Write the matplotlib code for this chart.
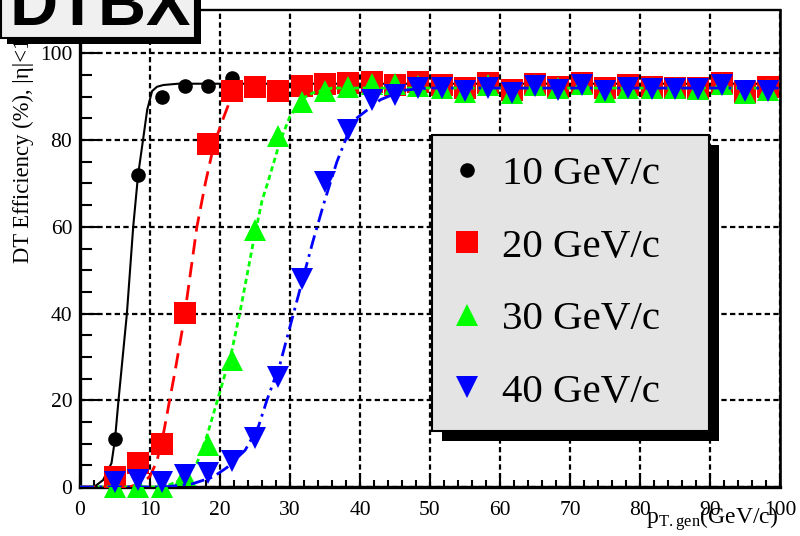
import numpy as np
import matplotlib
matplotlib.use('Agg')
import matplotlib.pyplot as plt
from matplotlib.patches import Rectangle
from matplotlib.ticker import MultipleLocator

plt.rcParams['font.family'] = ['Liberation Serif', 'DejaVu Serif']
plt.rcParams['mathtext.fontset'] = 'custom'
plt.rcParams['mathtext.rm'] = 'Liberation Serif'

# bin centres, pT gen (GeV/c)
pt = [5.0, 8.3, 11.7, 15.0, 18.3, 21.7, 25.0, 28.3, 31.7, 35.0, 38.3, 41.7, 45.0, 48.3, 51.7,
      55.0, 58.3, 61.7, 65.0, 68.3, 71.7, 75.0, 78.3, 81.7, 85.0, 88.3, 91.7, 95.0, 98.3]

# efficiency (%) for each pT cut
eff10 = [11, 72, 90, 92.5, 92.4, 94.3, 92.2, 91.4, 92.5, 93, 93.1, 93.3, 92.6, 93.3, 92.6,
         92, 93.1, 91.6, 92.9, 92.2, 93.2, 91.9, 92.6, 92.3, 92.1, 92.1, 93.2, 91.1, 92.2]
eff20 = [2.3, 5.5, 10, 40.2, 79, 91.4, 92.2, 91.4, 92.5, 93, 93.1, 93.3, 92.6, 93.3, 92.6,
         92, 93.1, 91.6, 92.9, 92.2, 93.2, 91.9, 92.6, 92.3, 92.1, 92.1, 93.2, 91.1, 92.2]
eff30 = [0, 0, 0, 2.8, 9.7, 29.2, 59.2, 81, 88.8, 91.4, 92.3, 93, 93, 92.4, 91.9,
         91.1, 92.6, 90.9, 92.6, 91.9, 93, 91.1, 91.9, 91.9, 91.9, 91.7, 93, 90.9, 91.6]
eff40 = [1.2, 1.6, 1.2, 2.8, 3.2, 6, 11.2, 25.4, 48, 70.4, 82.3, 89.3, 90.4, 92, 92,
         91.4, 92, 90.9, 92.4, 91.5, 92.8, 91.4, 92, 91.7, 91.7, 91.7, 92.6, 91.4, 91.4]

# fitted curves
fit10_x = [0, 2.0, 3.3, 4.5, 5.0, 5.5, 6.7, 7.6, 8.3, 9.0, 9.6, 10.3, 11.0, 11.9, 14, 100]
fit10_y = [0, 0, 1.6, 5.5, 11, 20, 40, 60, 72, 80, 87, 91.3, 92.3, 92.7, 93, 93]
fit20_x = [0, 7.0, 9.0, 10.0, 11.0, 12.0, 12.8, 13.5, 14.8, 16.7, 17.9, 19.0, 20.0, 21.4, 22.5, 24, 100]
fit20_y = [0, 0, 1, 2.5, 6, 13, 20, 26, 38, 60, 70, 78, 83, 89, 91.5, 92.5, 92.5]
fit30_x = [0, 11, 12.5, 14.3, 16.7, 18.1, 20.0, 21.7, 22.9, 24.8, 26.0, 26.9, 28.6, 30.0, 31.9, 33.3, 36, 100]
fit30_y = [0, 0, 0.3, 1.6, 5.5, 11.6, 22, 31.5, 40.7, 56.8, 66, 70.6, 79.8, 85.5, 89.7, 90.9, 92, 92]
fit40_x = [0, 12, 16, 19.0, 21, 23.6, 25.5, 26.7, 28.6, 30.5, 33.3, 34.8, 36.7, 39.0, 41.4, 42.9, 46.2, 50, 100]
fit40_y = [0, 0, 0.7, 2.3, 4.5, 8.5, 14, 20, 28.5, 40, 56.8, 65.2, 75, 84.4, 87.4, 89.3, 91.5, 92, 92]

labels = ['10 GeV/c', '20 GeV/c', '30 GeV/c', '40 GeV/c']

fig = plt.figure(figsize=(8, 5.36), dpi=100)
ax = fig.add_axes([80/800, 49/536, 700/800, 477/536])

series = [
    (eff10, fit10_x, fit10_y, 'k', 'o', 10.5, '-', 1.5),
    (eff20, fit20_x, fit20_y, '#ff0000', 's', 16, (0, (5.5, 2.8)), 2),
    (eff30, fit30_x, fit30_y, '#00ff00', '^', 16, (0, (1.9, 1.3)), 2),
    (eff40, fit40_x, fit40_y, '#0000ff', 'v', 16, (0, (5, 2, 1, 2)), 2),
]
handles = []
for i, (eff, fx, fy, c, m, ms, ls, lw) in enumerate(series):
    h, = ax.plot(pt, eff, ls='none', marker=m, ms=ms, color=c, mew=0,
                 clip_on=False, zorder=3 + i)
    ax.plot(fx, fy, ls=ls, color=c, lw=lw, zorder=3 + i)
    handles.append(h)

ax.set_xlim(0, 100)
ax.set_ylim(0, 110)
ax.set_xticks(np.arange(0, 101, 10))
ax.set_yticks(np.arange(0, 101, 20))
ax.xaxis.set_minor_locator(MultipleLocator(2))
ax.yaxis.set_minor_locator(MultipleLocator(5))
ax.grid(True, which='major', color='k', lw=1.6, ls=(0, (2.4, 1.5)))
ax.set_axisbelow(True)

ax.tick_params(axis='both', which='both', direction='in', top=False, right=False,
               labelsize=15.5, width=1.5, color='k')
ax.tick_params(axis='y', which='major', length=14, pad=5.5)
ax.tick_params(axis='y', which='minor', length=8.5)
ax.tick_params(axis='x', which='major', length=9.5, pad=10)
ax.tick_params(axis='x', which='minor', length=5)
ax.spines['left'].set_linewidth(2.4)
ax.spines['bottom'].set_linewidth(2.4)
ax.spines['top'].set_linewidth(1.7)
ax.spines['right'].set_linewidth(1.9)

leg = ax.legend(handles, labels, loc='upper left',
                bbox_to_anchor=(432/800, 1 - 135/536, 277/800, 0.0),
                bbox_transform=fig.transFigure, mode='expand', borderaxespad=0,
                fontsize=29.5, fancybox=False, edgecolor='k', facecolor='#e4e4e4',
                framealpha=1, borderpad=0.5, labelspacing=0.85, handlelength=0.72,
                handletextpad=0.5, numpoints=1)
leg.get_frame().set_linewidth(1.5)

# y title and x title, ROOT style
fig.text(23/800, 1 - 263/536, 'DT Efficiency (%), |η|<1.2', rotation=90,
         ha='center', va='bottom', fontsize=16.3, zorder=3)
fig.text(778/800, 1 - 524/536, r'$\mathrm{p_{T.gen}}$(GeV/c)', ha='right',
         va='baseline', fontsize=17)

# DTBX tag box with shadow
fig.add_artist(Rectangle((7/800, 1 - 44/536), 194/800, 60/536, transform=fig.transFigure,
                         fc='k', ec='none', zorder=5))
fig.add_artist(Rectangle((1/800, 1 - 38/536), 194/800, 60/536, transform=fig.transFigure,
                         fc='#f0f0f0', ec='k', lw=1.5, zorder=5.1))
fig.text(10/800, 1 - 25/536, 'DTBX', fontsize=48, fontweight='bold',
         family='Liberation Sans', va='baseline', zorder=6)

# legend shadow
fig.canvas.draw()
bb = leg.get_window_extent()
inv = ax.transAxes.inverted()
x0, y0 = inv.transform((bb.x0 + 10, bb.y0 - 10))
x1, y1 = inv.transform((bb.x1 + 10, bb.y1 - 10))
ax.add_patch(Rectangle((x0, y0), x1 - x0, y1 - y0, transform=ax.transAxes,
                       fc='k', ec='none', zorder=4.9, clip_on=False))

fig.savefig('out.png', dpi=100)
